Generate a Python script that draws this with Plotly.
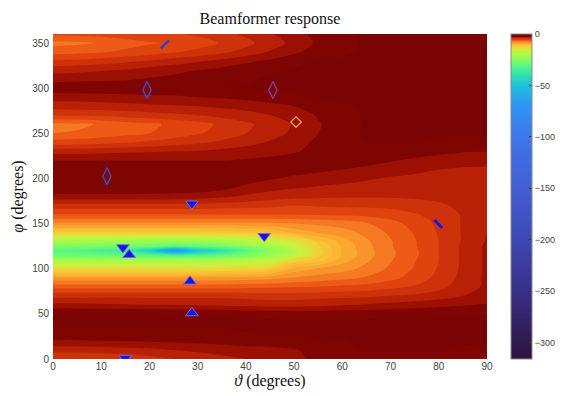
import plotly.graph_objects as go

# theta (degrees) grid columns and phi (degrees) grid rows
THETA = [0, 5, 10, 15, 20, 25, 30, 35, 40, 45, 50, 55, 60, 65, 70, 75, 80, 85, 90]
PHI = [0, 10, 20, 30, 40, 50, 60, 70, 80, 90, 100, 110, 115, 120, 125, 130, 140, 150,
       160, 170, 180, 190, 200, 210, 220, 230, 240, 250, 260, 270, 280, 290, 300, 310,
       320, 330, 340, 350, 360]

# response (dB), one row per phi value
R000 = [-5.0, -5.0, -4.9, -4.7, -4.4, -4.0, -3.6, -3.3, -3.0, -2.7, -2.3, -1.7, -1.2, -1.0, -1.0, -1.0, -1.2, -1.8, -2.2]
R010 = [-3.6, -3.6, -3.5, -3.4, -3.2, -3.0, -2.8, -2.6, -2.4, -2.3, -2.1, -1.6, -1.2, -1.0, -1.0, -1.0, -1.0, -1.1, -1.2]
R020 = [-2.1, -2.1, -2.0, -2.0, -1.9, -1.8, -1.7, -1.6, -1.5, -1.4, -1.2, -1.0, -1.0, -0.9, -0.9, -0.9, -0.9, -0.9, -0.9]
R030 = [-1.2, -1.2, -1.2, -1.2, -1.2, -1.2, -1.2, -1.1, -1.0, -0.9, -0.9, -0.9, -0.9, -0.9, -0.9, -0.9, -0.9, -0.9, -0.9]
R040 = [-0.8, -0.8, -0.8, -0.8, -0.8, -0.8, -0.8, -0.8, -0.8, -0.8, -0.8, -0.8, -0.8, -0.8, -0.8, -0.8, -0.8, -0.8, -0.8]
R050 = [-1.0, -1.0, -1.0, -1.0, -1.0, -1.1, -1.1, -1.1, -1.2, -1.3, -1.4, -1.4, -1.3, -1.3, -1.2, -1.2, -1.1, -1.1, -1.0]
R060 = [-2.7, -2.7, -2.8, -2.9, -3.0, -3.0, -3.1, -3.2, -3.3, -3.4, -3.4, -3.3, -3.1, -2.9, -2.7, -2.5, -2.3, -2.1, -1.9]
R070 = [-4.3, -4.3, -4.3, -4.3, -4.3, -4.3, -4.3, -4.3, -4.4, -4.5, -4.5, -4.4, -4.3, -4.2, -4.0, -3.8, -3.5, -3.0, -2.6]
R080 = [-6.4, -6.4, -6.4, -6.4, -6.4, -6.4, -6.4, -6.4, -6.3, -6.2, -6.1, -6.0, -5.8, -5.6, -5.3, -4.9, -4.3, -3.5, -2.8]
R090 = [-8.8, -8.8, -8.8, -8.8, -8.8, -8.8, -8.8, -8.7, -8.6, -8.4, -7.9, -7.6, -7.3, -6.9, -6.3, -5.6, -4.7, -3.7, -2.8]
R100 = [-13.5, -13.5, -13.5, -13.5, -13.5, -13.5, -13.5, -13.2, -12.8, -12.0, -9.6, -8.9, -8.4, -7.7, -6.8, -5.9, -4.9, -3.8, -2.8]
R110 = [-21.0, -21.0, -21.0, -21.0, -21.0, -21.0, -21.0, -20.5, -19.5, -18.0, -13.0, -11.6, -9.5, -8.2, -7.1, -6.1, -5.0, -3.8, -2.8]
R115 = [-28.0, -28.5, -29.0, -30.0, -31.5, -33.0, -32.0, -29.5, -26.0, -22.0, -18.0, -12.3, -9.9, -8.4, -7.2, -6.2, -5.0, -3.8, -2.8]
R120 = [-31.0, -32.0, -34.0, -36.0, -45.0, -72.0, -50.0, -40.0, -31.0, -24.0, -18.5, -12.4, -9.9, -8.4, -7.2, -6.2, -5.0, -3.8, -2.8]
R125 = [-25.0, -25.5, -26.0, -27.0, -28.0, -30.0, -29.0, -27.0, -24.0, -21.0, -17.0, -12.2, -9.8, -8.3, -7.1, -6.1, -5.0, -3.8, -2.8]
R130 = [-21.0, -21.0, -21.0, -21.5, -22.0, -22.5, -22.0, -21.0, -19.0, -17.0, -15.0, -11.4, -9.6, -8.2, -7.1, -6.1, -5.0, -3.9, -2.9]
R140 = [-12.0, -12.0, -12.0, -12.0, -12.0, -12.0, -12.0, -11.8, -11.5, -11.0, -9.8, -8.9, -8.4, -7.7, -6.8, -5.9, -4.9, -3.9, -3.0]
R150 = [-8.2, -8.2, -8.2, -8.2, -8.2, -8.2, -8.2, -8.2, -8.2, -8.2, -8.0, -7.8, -7.6, -7.1, -6.4, -5.6, -4.8, -3.9, -3.0]
R160 = [-6.0, -6.0, -6.0, -6.0, -6.0, -6.0, -6.0, -6.0, -6.0, -6.0, -6.0, -5.9, -5.8, -5.7, -5.5, -5.1, -4.6, -3.9, -3.2]
R170 = [-4.4, -4.4, -4.4, -4.4, -4.4, -4.4, -4.4, -4.5, -4.6, -4.7, -5.0, -4.9, -4.8, -4.8, -4.7, -4.5, -4.2, -3.7, -3.2]
R180 = [-2.3, -2.3, -2.3, -2.3, -2.3, -2.4, -2.5, -2.8, -3.2, -3.5, -3.7, -3.8, -3.9, -3.9, -3.9, -3.8, -3.7, -3.4, -3.0]
R190 = [-1.2, -1.2, -1.2, -1.2, -1.3, -1.3, -1.4, -1.7, -2.2, -2.6, -2.9, -3.1, -3.2, -3.3, -3.35, -3.4, -3.4, -3.3, -3.0]
R200 = [-1.0, -1.0, -1.0, -1.0, -1.0, -1.0, -1.0, -1.1, -1.6, -1.9, -2.2, -2.4, -2.7, -2.9, -3.1, -3.2, -3.3, -3.3, -3.2]
R210 = [-1.2, -1.2, -1.2, -1.2, -1.2, -1.2, -1.2, -1.2, -1.3, -1.4, -1.6, -1.8, -2.0, -2.3, -2.6, -2.8, -3.0, -3.1, -3.1]
R220 = [-2.0, -2.0, -2.0, -2.0, -2.0, -2.0, -2.0, -2.0, -1.9, -1.8, -1.6, -1.4, -1.4, -1.5, -1.9, -2.2, -2.5, -2.7, -2.8]
R230 = [-3.4, -3.4, -3.3, -3.2, -3.1, -3.0, -2.9, -2.7, -2.5, -2.3, -2.1, -1.7, -1.3, -1.2, -1.3, -1.5, -1.7, -1.9, -2.0]
R240 = [-5.6, -5.5, -5.3, -5.1, -4.8, -4.5, -4.2, -3.8, -3.4, -2.9, -2.4, -1.8, -1.2, -1.0, -1.0, -1.0, -1.1, -1.2, -1.3]
R250 = [-7.0, -6.9, -6.6, -6.3, -6.0, -5.6, -5.1, -4.6, -4.0, -3.4, -2.8, -2.0, -1.3, -0.9, -0.9, -0.9, -0.9, -0.9, -0.9]
R260 = [-7.3, -7.2, -6.9, -6.5, -6.2, -5.8, -5.4, -4.8, -4.2, -3.6, -2.9, -2.1, -1.4, -0.9, -0.9, -0.9, -0.9, -0.9, -0.9]
R270 = [-5.0, -4.9, -4.8, -4.6, -4.4, -4.2, -4.0, -3.7, -3.4, -3.0, -2.6, -1.9, -1.3, -0.9, -0.9, -0.9, -0.9, -0.9, -0.9]
R280 = [-3.5, -3.5, -3.4, -3.3, -3.2, -3.1, -3.0, -2.8, -2.6, -2.3, -2.0, -1.5, -1.1, -0.9, -0.9, -0.9, -0.9, -0.9, -0.9]
R290 = [-2.6, -2.6, -2.5, -2.4, -2.3, -2.2, -2.0, -1.9, -1.7, -1.5, -1.2, -0.9, -0.9, -0.9, -0.9, -0.9, -0.9, -0.9, -0.9]
R300 = [-1.2, -1.2, -1.2, -1.2, -1.1, -1.1, -1.0, -1.0, -0.9, -0.9, -0.9, -0.9, -0.9, -0.9, -0.9, -0.9, -0.9, -0.9, -0.9]
R310 = [-2.4, -2.3, -2.2, -2.1, -1.9, -1.7, -1.5, -1.3, -1.1, -0.9, -0.9, -0.9, -0.9, -0.9, -0.9, -0.9, -0.9, -0.9, -0.9]
R320 = [-3.4, -3.3, -3.1, -2.9, -2.6, -2.3, -2.0, -1.7, -1.4, -1.1, -0.9, -0.9, -0.9, -0.9, -0.9, -0.9, -0.9, -0.9, -0.9]
R330 = [-4.8, -4.7, -4.5, -4.2, -3.9, -3.5, -3.1, -2.7, -2.2, -1.8, -1.3, -0.9, -0.9, -0.9, -0.9, -0.9, -0.9, -0.9, -0.9]
R340 = [-6.4, -6.3, -6.1, -5.8, -5.5, -5.1, -4.7, -4.2, -3.6, -2.9, -2.2, -1.5, -1.1, -0.9, -0.9, -0.9, -0.9, -0.9, -0.9]
R350 = [-7.3, -7.2, -6.9, -6.4, -6.1, -5.9, -5.5, -4.9, -4.3, -3.5, -2.7, -1.8, -1.2, -0.9, -0.9, -0.9, -0.9, -0.9, -0.9]
R360 = [-5.8, -5.7, -5.6, -5.5, -5.3, -5.1, -4.8, -4.3, -3.8, -3.1, -2.4, -1.6, -1.1, -0.9, -0.9, -0.9, -0.9, -0.9, -0.9]

RESPONSE = [R000, R010, R020, R030, R040, R050, R060, R070, R080, R090, R100, R110, R115,
            R120, R125, R130, R140, R150, R160, R170, R180, R190, R200, R210, R220, R230,
            R240, R250, R260, R270, R280, R290, R300, R310, R320, R330, R340, R350, R360]

# markers (theta, phi)
TRI_DOWN_THETA = [28.8, 43.8, 14.5, 15.0]
TRI_DOWN_PHI = [172.0, 136.0, 123.5, 1.0]
TRI_UP_THETA = [15.8, 28.4, 28.8]
TRI_UP_PHI = [115.5, 86.0, 51.0]
DIAMOND_THETA = [11.2, 19.5]
DIAMOND_PHI = [202.5, 298.0]
PURPLE_THETA = [45.6]
PURPLE_PHI = [298.0]
ORANGE_THETA = [50.4]
ORANGE_PHI = [262.5]
SLASH_NE_THETA = [23.2]
SLASH_NE_PHI = [348.5]
SLASH_NW_THETA = [79.9]
SLASH_NW_PHI = [149.5]

CBAR_TICKS = [0, -50, -100, -150, -200, -250, -300]

ZMIN, ZMAX = -316.0, 0.0
cs_vals = [0, -1.8, -2.8, -4, -5.3, -6.3, -7, -8, -9, -10.3, -12.5, -16, -21, -29, -40,
           -50, -68, -100, -150, -200, -250, -316]
cs_cols = [(120, 3, 3), (128, 6, 3), (168, 20, 5), (198, 42, 8), (220, 62, 12), (235, 85, 20),
           (242, 105, 27), (247, 135, 40), (250, 160, 45), (250, 180, 50), (242, 208, 55),
           (205, 240, 60), (160, 252, 75), (100, 250, 120), (45, 225, 175), (30, 195, 220),
           (45, 150, 245), (62, 118, 235), (66, 95, 212), (62, 72, 180), (56, 48, 135),
           (45, 18, 62)]
colorscale = sorted([[(v - ZMIN) / (ZMAX - ZMIN), "rgb(%d,%d,%d)" % c] for v, c in zip(cs_vals, cs_cols)])

fig = go.Figure()
fig.add_trace(go.Contour(
    x=THETA, y=PHI, z=RESPONSE,
    colorscale=colorscale, zmin=ZMIN, zmax=ZMAX, zauto=False,
    autocontour=False,
    contours=dict(start=ZMIN, end=ZMAX, size=1, coloring="fill", showlines=False),
    line=dict(width=0, smoothing=1.0),
    colorbar=dict(
        x=1.055, xanchor="left", xpad=0, y=0.5, yanchor="middle", ypad=0,
        len=1.0, lenmode="fraction",
        thickness=21, outlinewidth=1, outlinecolor="#8a8a8a",
        tickvals=CBAR_TICKS, ticks="inside", ticklen=3, tickcolor="#333",
        tickfont=dict(family="Liberation Sans, Arial", size=9, color="#444"),
    ),
    hoverinfo="skip",
))

blue = "rgb(20,20,235)"
fig.add_trace(go.Scatter(x=TRI_DOWN_THETA, y=TRI_DOWN_PHI, mode="markers",
                         marker=dict(symbol="triangle-down", size=11, color=blue,
                                     line=dict(width=1, color="rgb(110,110,210)")), showlegend=False))
fig.add_trace(go.Scatter(x=TRI_UP_THETA, y=TRI_UP_PHI, mode="markers",
                         marker=dict(symbol="triangle-up", size=11, color=blue,
                                     line=dict(width=1, color="rgb(120,100,210)")), showlegend=False))
fig.add_trace(go.Scatter(x=DIAMOND_THETA, y=DIAMOND_PHI, mode="markers",
                         marker=dict(symbol="diamond-tall-open", size=12, color="rgb(60,80,210)",
                                     line=dict(width=1.3)), showlegend=False))
fig.add_trace(go.Scatter(x=PURPLE_THETA, y=PURPLE_PHI, mode="markers",
                         marker=dict(symbol="diamond-tall-open", size=12, color="rgb(130,60,170)",
                                     line=dict(width=1.3)), showlegend=False))
fig.add_trace(go.Scatter(x=ORANGE_THETA, y=ORANGE_PHI, mode="markers",
                         marker=dict(symbol="diamond-open", size=8, color="rgb(245,160,70)",
                                     line=dict(width=1.3)), showlegend=False))
fig.add_trace(go.Scatter(x=SLASH_NE_THETA, y=SLASH_NE_PHI, mode="markers",
                         marker=dict(symbol="line-ne", size=8, color="rgb(60,60,190)",
                                     line=dict(width=2.5, color="rgb(60,60,190)")), showlegend=False))
fig.add_trace(go.Scatter(x=SLASH_NW_THETA, y=SLASH_NW_PHI, mode="markers",
                         marker=dict(symbol="line-nw", size=8, color=blue,
                                     line=dict(width=3, color=blue)), showlegend=False))

tickfont = dict(family="Liberation Sans, Arial", size=10, color="#444")
serif = "Liberation Serif, DejaVu Serif, serif"
# the page body has an 8 px margin, so the figure is sized to fit the 563x396 window
W, H = 555, 388
fig.update_layout(
    width=W, height=H,
    margin=dict(l=45, r=76, t=26, b=37, autoexpand=False),
    paper_bgcolor="white", plot_bgcolor="white",
    title=dict(text="Beamformer response", x=0.5, xref="paper", xanchor="center",
               y=1 - 10 / H, yref="container", yanchor="middle",
               font=dict(family=serif, size=16, color="#111")),
    xaxis=dict(range=[0, 90], tickvals=[0, 10, 20, 30, 40, 50, 60, 70, 80, 90],
               showgrid=False, zeroline=False, ticks="", tickfont=tickfont,
               title=dict(text="<i>ϑ</i> (degrees)", font=dict(family=serif, size=16, color="#111"),
                          standoff=0)),
    yaxis=dict(range=[0, 360], tickvals=[0, 50, 100, 150, 200, 250, 300, 350],
               showgrid=False, zeroline=False, ticks="", tickfont=tickfont,
               ticklabelstandoff=3,
               title=dict(text="<i>φ</i> (degrees)", font=dict(family=serif, size=16, color="#111"),
                          standoff=4)),
)

fig.write_html("out.html")
